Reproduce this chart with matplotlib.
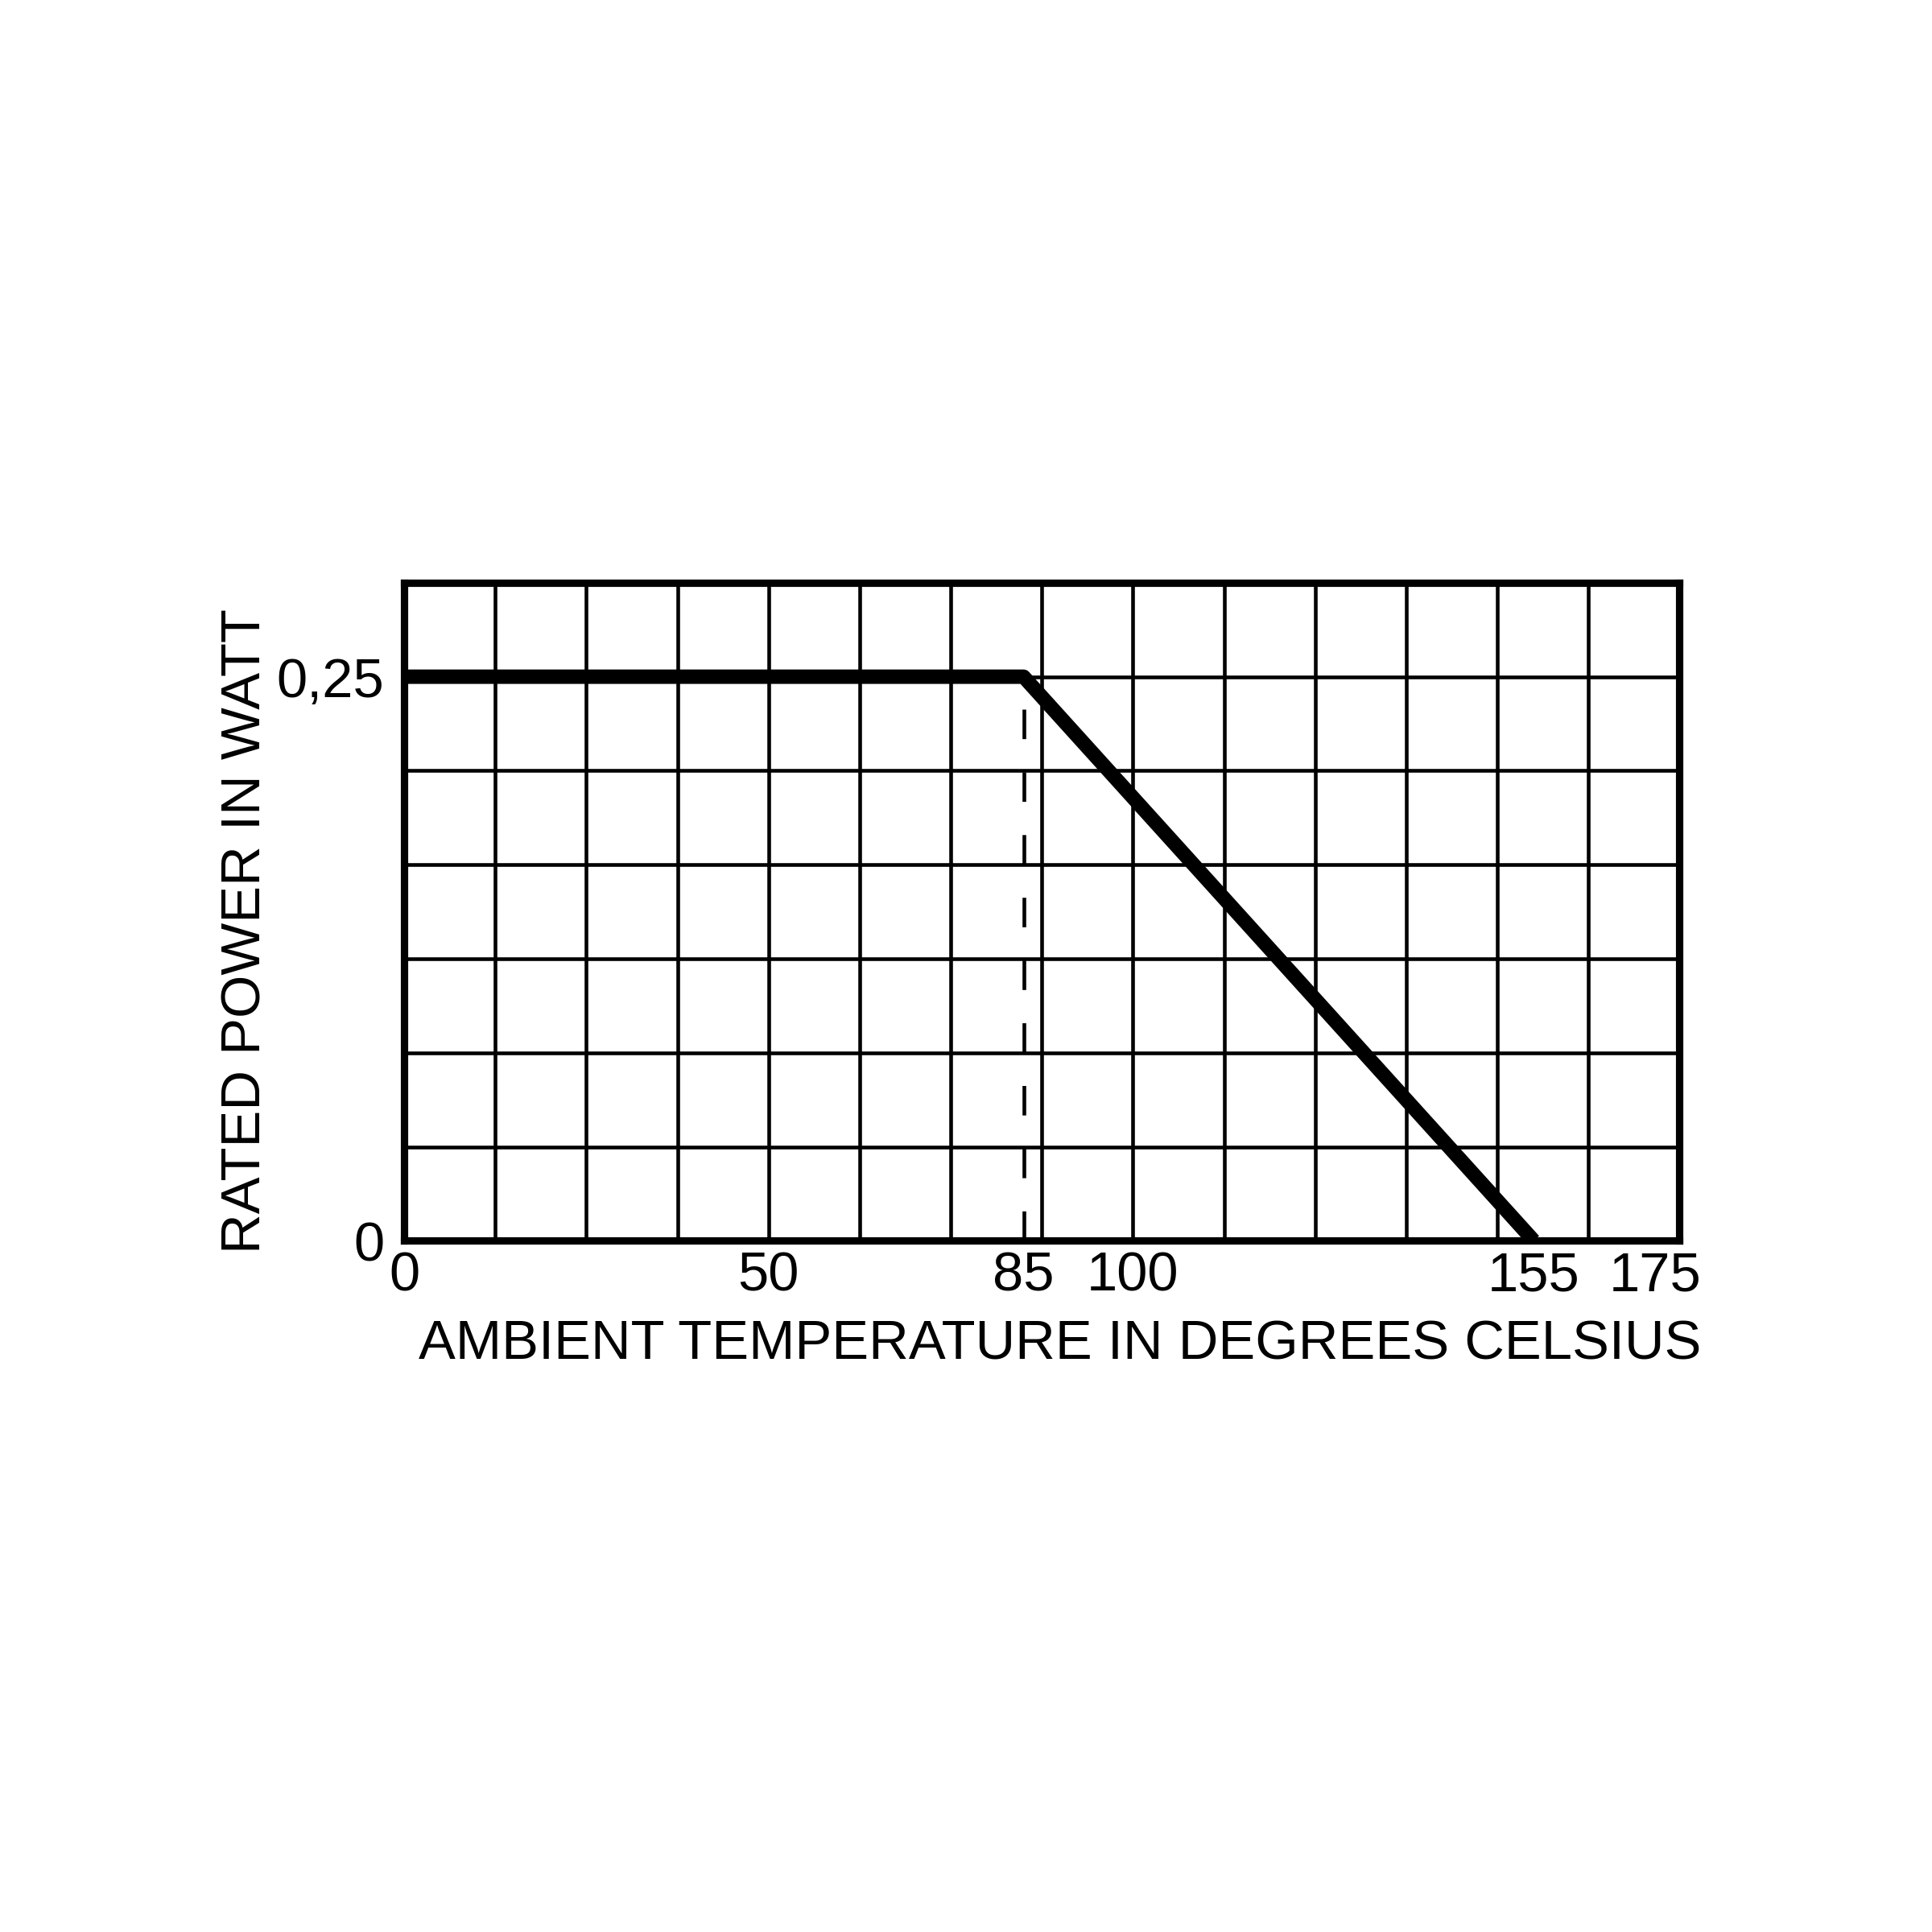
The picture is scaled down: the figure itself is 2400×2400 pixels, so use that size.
import numpy as np
import matplotlib
matplotlib.use("Agg")
import matplotlib.pyplot as plt
import matplotlib.transforms as mtransforms

plt.rcParams['font.family'] = ['Liberation Sans', 'DejaVu Sans']

# derating curve data
temps = [0, 85, 155]
power = [0.25, 0.25, 0]
knee_temp = 85
rated_power = 0.25

x_ticks = [0, 50, 85, 100, 155, 175]
x_labels = ['0', '50', '85', '100', '155', '175']
y_ticks = [0, 0.25]
y_labels = ['0', '0,25']

x_max = 175
y_max = 0.25 * 7 / 6
x_grid = np.arange(0, 175.1, 12.5)
y_grid = np.arange(0, 7) * 0.25 / 6

fs = 16.5

fig = plt.figure(figsize=(8, 8), dpi=300)
ax = fig.add_axes([0.2092, 0.3578, 0.6601, 0.3406])

ax.set_xlim(0, x_max)
ax.set_ylim(0, y_max)

# keep minor grid lines even where they fall on a labelled tick
ax.xaxis.remove_overlapping_locs = False
ax.yaxis.remove_overlapping_locs = False
ax.set_xticks(x_grid, minor=True)
ax.set_yticks(y_grid, minor=True)
ax.grid(which='minor', color='black', linewidth=1.1)
ax.grid(which='major', visible=False)

ax.plot(temps, power, color='black', linewidth=4.3, solid_capstyle='butt', zorder=5)
ax.plot([knee_temp, knee_temp], [0, rated_power], color='black', linewidth=1.1,
        dashes=(8, 9), zorder=4)

ax.set_xticks(x_ticks)
ax.set_xticklabels(x_labels, fontsize=fs)
ax.set_yticks(y_ticks)
ax.set_yticklabels(y_labels, fontsize=fs)
ax.tick_params(which='both', length=0)
ax.tick_params(axis='x', pad=3)
ax.tick_params(axis='y', pad=6)

# shift the last x label a bit left like the original
last = ax.get_xticklabels()[-1]
last.set_transform(last.get_transform() + mtransforms.ScaledTranslation(-0.1, 0, fig.dpi_scale_trans))

for s in ax.spines.values():
    s.set_linewidth(2.2)
    s.set_zorder(6)

fig.text(0.2168, 0.2966, 'AMBIENT TEMPERATURE IN DEGREES CELSIUS', fontsize=fs,
         ha='left', va='baseline')
fig.text(0.1140, 0.3514, 'RATED POWER IN WATT', fontsize=fs, rotation=90,
         ha='left', va='bottom')

fig.savefig('out.png', dpi=300, facecolor='white')
